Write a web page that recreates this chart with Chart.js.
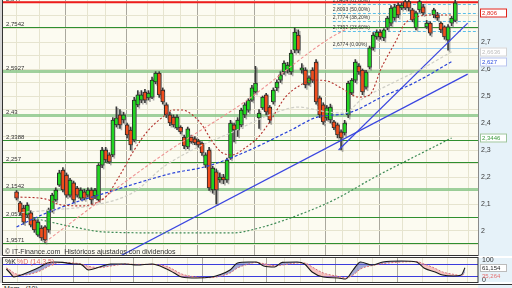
<!DOCTYPE html>
<html lang="es">
<head>
<meta charset="UTF-8">
<title>Cotización - IT-Finance</title>
<script src="https://cdn.jsdelivr.net/npm/chart.js"></script>
<style>
  body { margin: 0; width: 512px; height: 288px; overflow: hidden; background: #fff; position: relative; font-family: "Liberation Sans", Arial, sans-serif; }
  #main { position: absolute; left: 0; top: 0; }
  #osc { position: absolute; left: 0; top: 257px; }
  #mom { position: absolute; left: 2px; top: 284px; width: 476px; height: 4px; border-top: 1px solid #333; background: #fcfbf1; font-size: 7px; color: #222; line-height: 7px; overflow: hidden; padding-left: 2px; }
  #momSide { position: absolute; left: 478px; top: 284px; width: 34px; height: 4px; background: #e6f2f9; border-top: 1px solid #333; }
</style>
</head>
<body>
<canvas id="main" width="512" height="256"></canvas>
<canvas id="osc" width="512" height="26"></canvas>
<div id="mom">Mom&nbsp;&nbsp;&nbsp;(10)</div>
<div id="momSide"></div>

<script>
// ---- datos de las velas (indice = sesion) ----
const candleOpen = [2.145,2.104,2.085,2.060,2.067,2.041,1.985,2.011,2.015,2.004,2.078,2.115,2.170,2.226,2.207,2.133,2.178,2.159,2.122,2.145,
  2.133,2.152,2.130,2.115,2.244,2.300,2.282,2.282,2.393,2.430,2.411,2.393,2.374,2.337,2.467,2.485,2.515,2.493,2.496,2.552,
  2.585,2.522,2.467,2.430,2.422,2.382,2.385,2.348,2.311,2.348,2.341,2.333,2.326,2.244,2.300,2.152,2.219,2.189,2.200,2.189,
  2.270,2.393,2.374,2.393,2.430,2.448,2.485,2.515,2.419,2.456,2.504,2.459,2.478,2.530,2.559,2.589,2.596,2.589,2.670,2.726,
  2.596,2.596,2.548,2.596,2.626,2.493,2.467,2.419,2.411,2.404,2.393,2.367,2.363,2.430,2.511,2.559,2.611,2.596,2.533,2.607,
  2.678,2.719,2.737,2.715,2.752,2.770,2.789,2.837,2.826,2.850,2.850,2.819,2.752,2.819,2.830,2.756,2.770,2.800,2.800,2.770,
  2.756,2.707,2.770,2.780];
const candleHigh = [2.150,2.110,2.095,2.105,2.075,2.050,2.040,2.020,2.020,2.085,2.140,2.160,2.225,2.235,2.215,2.195,2.185,2.165,2.160,2.155,
  2.160,2.160,2.158,2.250,2.310,2.310,2.290,2.420,2.460,2.450,2.440,2.400,2.385,2.495,2.520,2.520,2.525,2.520,2.570,2.590,
  2.590,2.530,2.475,2.440,2.430,2.430,2.390,2.355,2.385,2.355,2.350,2.340,2.330,2.290,2.310,2.240,2.230,2.215,2.210,2.270,
  2.410,2.400,2.420,2.455,2.475,2.490,2.540,2.610,2.450,2.500,2.510,2.465,2.530,2.560,2.590,2.630,2.625,2.670,2.752,2.745,
  2.620,2.605,2.575,2.605,2.635,2.500,2.475,2.465,2.470,2.410,2.400,2.375,2.410,2.555,2.565,2.635,2.620,2.600,2.595,2.685,
  2.735,2.745,2.745,2.750,2.795,2.835,2.840,2.845,2.845,2.856,2.856,2.825,2.815,2.856,2.840,2.780,2.775,2.825,2.810,2.775,
  2.760,2.765,2.795,2.856];
const candleLow = [2.115,2.060,2.025,2.050,2.015,1.995,1.980,1.965,1.957,1.995,2.070,2.110,2.165,2.145,2.125,2.125,2.105,2.125,2.115,2.115,
  2.125,2.100,2.120,2.110,2.235,2.255,2.250,2.275,2.385,2.380,2.400,2.345,2.300,2.330,2.460,2.475,2.475,2.485,2.490,2.545,
  2.495,2.470,2.420,2.390,2.385,2.375,2.360,2.305,2.305,2.325,2.320,2.310,2.280,2.235,2.150,2.140,2.100,2.180,2.175,2.180,
  2.265,2.330,2.350,2.385,2.420,2.440,2.480,2.510,2.380,2.450,2.430,2.400,2.470,2.520,2.550,2.580,2.585,2.580,2.660,2.660,
  2.585,2.530,2.540,2.550,2.470,2.420,2.395,2.410,2.400,2.375,2.345,2.300,2.355,2.420,2.505,2.550,2.580,2.505,2.525,2.600,
  2.670,2.710,2.710,2.705,2.745,2.760,2.780,2.790,2.820,2.820,2.815,2.775,2.745,2.810,2.800,2.750,2.725,2.790,2.780,2.735,
  2.710,2.670,2.760,2.775];
const candleClose = [2.122,2.067,2.033,2.096,2.022,2.004,2.033,1.974,1.967,2.078,2.133,2.152,2.215,2.152,2.133,2.189,2.115,2.133,2.152,2.122,
  2.152,2.115,2.152,2.244,2.300,2.263,2.256,2.411,2.419,2.393,2.430,2.356,2.319,2.485,2.504,2.504,2.485,2.511,2.559,2.585,
  2.504,2.478,2.430,2.400,2.393,2.422,2.367,2.315,2.378,2.330,2.326,2.319,2.289,2.282,2.160,2.233,2.152,2.200,2.189,2.263,
  2.400,2.374,2.411,2.448,2.467,2.485,2.530,2.548,2.437,2.496,2.441,2.411,2.522,2.552,2.578,2.622,2.615,2.659,2.737,2.670,
  2.604,2.541,2.567,2.559,2.478,2.430,2.404,2.456,2.459,2.382,2.356,2.345,2.400,2.548,2.559,2.626,2.589,2.515,2.589,2.678,
  2.726,2.737,2.719,2.745,2.789,2.826,2.830,2.800,2.837,2.826,2.826,2.782,2.808,2.850,2.808,2.770,2.733,2.819,2.789,2.745,
  2.719,2.756,2.789,2.845];

// ---- medias moviles y lineas de tendencia (indice de sesion, precio) ----
const maShortIdx = [0, 8, 12.7, 18.6, 22.7, 25, 29, 33, 37, 41, 44, 46.5, 49, 52, 54.6, 57.3, 60.5, 64, 67.6, 70.8, 75.4, 79.7, 83, 87, 91, 96, 99, 102.4, 106.5, 108.6, 111.4, 116.8, 122];
const maShortVal = [2.126, 2.119, 2.096, 2.093, 2.107, 2.126, 2.207, 2.300, 2.374, 2.422, 2.448, 2.448, 2.433, 2.393, 2.337, 2.293, 2.282, 2.307, 2.345, 2.400, 2.496, 2.541, 2.559, 2.556, 2.530, 2.496, 2.504, 2.607, 2.707, 2.763, 2.789, 2.800, 2.800];
const maPinkIdx = [8, 41, 63.5, 87, 93];
const maPinkVal = [1.959, 2.282, 2.474, 2.707, 2.752];
const maGrayIdx = [0, 10, 22, 33, 41, 50, 60, 71, 79, 87, 92, 96.5, 106, 114, 122];
const maGrayVal = [2.067, 2.078, 2.096, 2.145, 2.235, 2.305, 2.363, 2.430, 2.459, 2.441, 2.437, 2.485, 2.552, 2.604, 2.6636];
const maBlueIdx = [0, 7, 16, 25, 34, 44, 52.7, 63.5, 77, 84.3, 93, 103, 111.4, 122];
const maBlueVal = [2.015, 2.059, 2.104, 2.141, 2.178, 2.215, 2.237, 2.289, 2.374, 2.422, 2.437, 2.500, 2.548, 2.627];
const maGreenIdx = [4.6, 16, 25, 43, 60.5, 68, 79, 89, 100.5, 111.4, 122];
const maGreenVal = [2.048, 2.015, 1.996, 1.993, 1.993, 2.011, 2.059, 2.115, 2.200, 2.274, 2.3446];
const trendAIdx = [28.6, 126.5];
const trendAVal = [1.904, 2.581];
const trendBIdx = [90.3, 126.5];
const trendBVal = [2.300, 2.770];

// ---- niveles horizontales ----
const levelValues = [2.7542, 2.5927, 2.43, 2.3388, 2.257, 2.1542, 2.0512, 1.9571];
const levelLabels = ['2,7542', '2,5927', '2,43', '2,3388', '2,257', '2,1542', '2,0512', '1,9571'];
const levelSoft = [false, true, true, false, false, true, false, false];
const topLevelValue = 2.847;
const topLevelLabel = '2,847';
const fibValues = [2.8404, 2.8093, 2.7774, 2.7392, 2.6774];
const fibLabels = ['2,8404 (61,80%)', '2,8093 (50,00%)', '2,7774 (38,20%)', '2,7392 (23,60%)', '2,6774 (0,00%)'];
const fibStartIdx = 88.7;

// etiquetas del eje derecho
const priceTicks = [2, 2.1, 2.2, 2.3, 2.4, 2.5, 2.6, 2.7, 2.8];
const sideValues = [2.806, 2.6636, 2.627, 2.3446];
const sideLabels = ['2,806', '2,6636', '2,627', '2,3446'];
const sideColors = ['#e0221a', '#bdbdbd', '#2f4fe0', '#3d9a3d'];
const sideBorders = ['#e0221a', '#d4d4d4', '#b8c4ee', '#9cc49c'];

// rejilla vertical (semanas y meses)
const weekGrid = [3.1, 9.5, 21.9, 27.8, 39.3, 43.3, 48.7, 58.6, 63.5, 74.7, 78.8, 84.9, 94.3, 98.3, 111.5, 118.2, 123.8];
const monthGrid = [17.9, 34, 52.7, 69.9, 88.4, 105];

// ---- estocastico ----
const oscIdx = [0, 1, 2, 4, 6, 9, 11, 13, 15, 18, 20, 22, 25, 28, 32, 35, 39, 43, 45, 47, 51, 55, 57, 60, 62, 65, 67, 69, 72, 74, 78, 80, 82, 85, 89, 91, 93, 95, 98, 101, 106, 110, 112, 115, 117, 120, 122, 123];
const oscK = [55, 35, 15, 25, 40, 65, 85, 90, 88, 80, 78, 50, 65, 80, 80, 75, 80, 55, 35, 15, 10, 15, 25, 50, 85, 90, 90, 70, 65, 88, 90, 80, 40, 15, 10, 5, 50, 90, 75, 90, 95, 90, 60, 40, 25, 20, 25, 61.154];
const oscD = [60, 50, 35, 25, 28, 45, 65, 82, 88, 85, 80, 68, 62, 70, 80, 78, 78, 68, 50, 30, 15, 12, 18, 35, 60, 80, 88, 82, 72, 75, 85, 85, 65, 35, 18, 10, 25, 55, 72, 82, 90, 92, 80, 58, 40, 28, 22, 35.264];
const oscLevels = [80, 20];
const oscSideValues = [61.154, 35.264];
const oscSideLabels = ['61,154', '35,264'];

const X_MIN = -0.9, X_MAX = 126.5;
const Y_MIN = 1.9074, Y_MAX = 2.8556;
const FONT = '"Liberation Sans", Arial, sans-serif';
Chart.defaults.font.family = FONT;

function pts(ix, vals) {
  return ix.map((x, k) => ({ x: x, y: vals[k] }));
}
function fmt(v) {
  return String(+v.toFixed(2)).replace('.', ',');
}

const idx = candleClose.map((c, i) => i);
const gridIdx = weekGrid.concat(monthGrid).sort((a, b) => a - b);

function xAxis() {
  return {
    type: 'linear', min: X_MIN, max: X_MAX,
    ticks: { display: false },
    border: { display: false },
    grid: {
      drawTicks: false,
      color: c => (c.tick && monthGrid.includes(c.tick.value)) ? '#aaa89e' : '#e6e4cf'
    },
    afterBuildTicks: s => { s.ticks = gridIdx.map(v => ({ value: v })); },
    afterFit: s => { s.height = 0; }
  };
}

// sombra gris de las velas
const candleShadow = {
  id: 'candleShadow',
  beforeDatasetDraw(chart, args) {
    if (!chart.data.datasets[args.index].candle) return;
    const c = chart.ctx;
    c.save();
    c.shadowColor = 'rgba(110,110,110,0.55)';
    c.shadowOffsetX = 1.5;
    c.shadowOffsetY = 1.5;
    c.shadowBlur = 0.5;
  },
  afterDatasetDraw(chart, args) {
    if (chart.data.datasets[args.index].candle) chart.ctx.restore();
  }
};

const mainDecor = {
  id: 'mainDecor',
  beforeDraw(chart) {
    const { ctx, chartArea: a, width, height } = chart;
    ctx.save();
    ctx.fillStyle = '#fcfbf1';
    ctx.fillRect(a.left, a.top, a.right - a.left, a.bottom - a.top);
    ctx.fillStyle = '#e6f2f9';
    ctx.fillRect(a.right, 0, width - a.right, height);
    ctx.fillStyle = '#d6d6d6';
    ctx.fillRect(0, 0, a.left, height);
    ctx.restore();
  },
  beforeDatasetsDraw(chart) {
    const { ctx, chartArea: a, scales } = chart;
    const y = scales.y, x = scales.x;
    ctx.save();
    ctx.font = '6px ' + FONT;
    ctx.textBaseline = 'alphabetic';
    // niveles verdes
    levelValues.forEach((v, k) => {
      const py = Math.round(y.getPixelForValue(v)) + 0.5;
      ctx.strokeStyle = levelSoft[k] ? 'rgba(135,198,135,0.8)' : '#2f8f2f';
      ctx.lineWidth = levelSoft[k] ? 3 : 1;
      ctx.beginPath(); ctx.moveTo(a.left, py); ctx.lineTo(a.right, py); ctx.stroke();
      ctx.fillStyle = '#333';
      ctx.fillText(levelLabels[k], a.left + 3, py - 2);
    });
    // nivel rojo superior
    const ty = y.getPixelForValue(topLevelValue);
    ctx.strokeStyle = '#ee1c1c'; ctx.lineWidth = 2;
    ctx.beginPath(); ctx.moveTo(a.left, ty); ctx.lineTo(a.right, ty); ctx.stroke();
    ctx.fillStyle = '#333';
    ctx.fillText(topLevelLabel, a.left + 3, ty - 1.5);
    // retrocesos de Fibonacci
    const fx = x.getPixelForValue(fibStartIdx);
    ctx.font = '5px ' + FONT;
    fibValues.forEach((v, k) => {
      const py = Math.round(y.getPixelForValue(v)) + 0.5;
      const last = k === fibValues.length - 1;
      ctx.strokeStyle = last ? '#9fd3ee' : '#5bbfe9';
      ctx.lineWidth = 1;
      ctx.setLineDash(last ? [] : [3, 2]);
      ctx.beginPath(); ctx.moveTo(fx, py); ctx.lineTo(a.right, py); ctx.stroke();
      ctx.fillStyle = '#333';
      ctx.fillText(fibLabels[k], fx, py - 3);
    });
    ctx.restore();
  },
  afterDatasetsDraw(chart) {
    const { ctx, chartArea: a } = chart;
    ctx.save();
    ctx.font = '7px ' + FONT;
    ctx.fillStyle = '#333';
    ctx.fillText('© IT-Finance.com  Históricos ajustados con dividendos', a.left + 2, a.bottom - 2);
    ctx.strokeStyle = '#333'; ctx.lineWidth = 1;
    ctx.beginPath();
    ctx.moveTo(a.left - 0.5, a.top); ctx.lineTo(a.left - 0.5, a.bottom - 0.5); ctx.lineTo(a.right, a.bottom - 0.5);
    ctx.stroke();
    ctx.restore();
  },
  afterDraw(chart) {
    const { ctx, chartArea: a, scales } = chart;
    ctx.save();
    ctx.font = '6px ' + FONT;
    ctx.textBaseline = 'middle';
    sideValues.forEach((v, k) => {
      const py = Math.round(scales.y.getPixelForValue(v));
      ctx.fillStyle = '#fff';
      ctx.fillRect(a.right + 2, py - 4.5, 27, 9);
      ctx.strokeStyle = sideBorders[k]; ctx.lineWidth = 1;
      ctx.strokeRect(a.right + 2.5, py - 4, 26, 8);
      ctx.fillStyle = sideColors[k];
      ctx.fillText(sideLabels[k], a.right + 4, py + 0.5);
    });
    ctx.restore();
  }
};

new Chart(document.getElementById('main'), {
  type: 'bar',
  data: {
    datasets: [
      { type: 'line', data: pts(maShortIdx, maShortVal), borderColor: '#b3312c', borderWidth: 1.1, borderDash: [2, 2], pointRadius: 0, cubicInterpolationMode: 'monotone', order: 0 },
      { type: 'line', data: pts(maPinkIdx, maPinkVal), borderColor: '#ee9090', borderWidth: 1.1, borderDash: [3, 2], pointRadius: 0, cubicInterpolationMode: 'monotone', order: 0 },
      { type: 'line', data: pts(maGrayIdx, maGrayVal), borderColor: '#cfcfc6', borderWidth: 1.2, borderDash: [3, 2], pointRadius: 0, cubicInterpolationMode: 'monotone', order: 0 },
      { type: 'line', data: pts(maBlueIdx, maBlueVal), borderColor: '#2a43d8', borderWidth: 1.2, borderDash: [3, 2], pointRadius: 0, cubicInterpolationMode: 'monotone', order: 0 },
      { type: 'line', data: pts(maGreenIdx, maGreenVal), borderColor: '#3d8a55', borderWidth: 1.2, borderDash: [2, 2], pointRadius: 0, cubicInterpolationMode: 'monotone', order: 0 },
      { type: 'line', data: pts(trendAIdx, trendAVal), borderColor: '#3a46e0', borderWidth: 1.2, pointRadius: 0, order: 0 },
      { type: 'line', data: pts(trendBIdx, trendBVal), borderColor: '#3a46e0', borderWidth: 1.2, pointRadius: 0, order: 0 },
      {
        candle: true, grouped: false, order: 1, barThickness: 4,
        data: idx.map(i => ({ x: i, y: [candleOpen[i], candleClose[i]] })),
        backgroundColor: idx.map(i => candleClose[i] >= candleOpen[i] ? '#22d622' : '#f04c1c'),
        borderColor: '#2a2a2a', borderWidth: 1, borderSkipped: false
      },
      {
        candle: true, grouped: false, order: 2, barThickness: 1,
        data: idx.map(i => ({ x: i, y: [candleLow[i], candleHigh[i]] })),
        backgroundColor: '#3a3a3a'
      }
    ]
  },
  options: {
    responsive: false,
    animation: false,
    layout: { padding: { left: 3, right: 0, top: 0, bottom: 0 } },
    plugins: { legend: { display: false }, tooltip: { enabled: false } },
    scales: {
      x: xAxis(),
      y: {
        position: 'right', min: Y_MIN, max: Y_MAX,
        ticks: {
          stepSize: 0.05, autoSkip: false, includeBounds: false, padding: 3,
          color: '#3a3a3a', font: { size: 7 },
          callback: v => priceTicks.some(t => Math.abs(t - v) < 1e-6) ? fmt(v) : ''
        },
        grid: { drawTicks: false, color: '#e6e4cf' },
        border: { display: true, color: '#8a8a8a' },
        afterFit: s => { s.width = 34; s.paddingTop = 0; s.paddingBottom = 0; }
      }
    }
  },
  plugins: [mainDecor, candleShadow]
});

// ---- panel del estocastico ----
const oscDecor = {
  id: 'oscDecor',
  beforeDraw(chart) {
    const { ctx, chartArea: a, width, height } = chart;
    ctx.save();
    ctx.fillStyle = '#fff';
    ctx.fillRect(0, 0, width, height);
    ctx.fillStyle = '#fcfbf1';
    ctx.fillRect(a.left, a.top, a.right - a.left, a.bottom - a.top);
    ctx.fillStyle = '#e6f2f9';
    ctx.fillRect(a.right, a.top, width - a.right, a.bottom - a.top);
    ctx.fillStyle = '#d6d6d6';
    ctx.fillRect(0, 0, a.left, height);
    ctx.restore();
  },
  beforeDatasetsDraw(chart) {
    const { ctx, chartArea: a, scales } = chart;
    ctx.save();
    ctx.strokeStyle = '#3b3bdc'; ctx.lineWidth = 1.2;
    oscLevels.forEach(v => {
      const py = Math.round(scales.y.getPixelForValue(v)) + 0.5;
      ctx.beginPath(); ctx.moveTo(a.left, py); ctx.lineTo(a.right, py); ctx.stroke();
    });
    ctx.restore();
  },
  afterDraw(chart) {
    const { ctx, chartArea: a, scales } = chart;
    const y = scales.y;
    ctx.save();
    ctx.strokeStyle = '#333'; ctx.lineWidth = 1;
    ctx.strokeRect(a.left - 0.5, a.top - 0.5, a.right - a.left + 0.5, a.bottom - a.top + 1);
    ctx.font = '7px ' + FONT;
    ctx.textBaseline = 'top';
    ctx.fillStyle = '#222';
    ctx.fillText('%K', a.left + 2, a.top + 1);
    ctx.fillStyle = '#e06a6a';
    ctx.fillText('%D (14,3,5)', a.left + 14, a.top + 1);
    ctx.textBaseline = 'middle';
    ctx.fillStyle = '#333';
    ctx.fillText('100', a.right + 4, y.getPixelForValue(100));
    ctx.fillText('0', a.right + 4, y.getPixelForValue(0));
    ctx.font = '6px ' + FONT;
    oscSideValues.forEach((v, k) => {
      const py = Math.round(y.getPixelForValue(v)) + (k === 1 ? 3 : 0);
      if (k === 0) {
        ctx.fillStyle = '#fff';
        ctx.fillRect(a.right + 2, py - 4, 27, 8);
        ctx.strokeStyle = '#bbb';
        ctx.strokeRect(a.right + 2.5, py - 3.5, 26, 7);
        ctx.fillStyle = '#222';
      } else {
        ctx.fillStyle = '#e57070';
      }
      ctx.fillText(oscSideLabels[k], a.right + 4, py + 0.5);
    });
    ctx.restore();
  }
};

new Chart(document.getElementById('osc'), {
  type: 'line',
  data: {
    datasets: [
      {
        data: pts(oscIdx, oscK), borderColor: '#1a1a1a', borderWidth: 1.1, pointRadius: 0,
        cubicInterpolationMode: 'monotone',
        fill: { target: 1, above: 'rgba(95,105,185,0.55)', below: 'rgba(240,150,150,0.55)' }
      },
      {
        data: pts(oscIdx, oscD), borderColor: '#e46a6a', borderWidth: 1, borderDash: [2, 1.5], pointRadius: 0,
        cubicInterpolationMode: 'monotone'
      }
    ]
  },
  options: {
    responsive: false,
    animation: false,
    layout: { padding: { left: 3, right: 0, top: 1, bottom: 1 } },
    plugins: { legend: { display: false }, tooltip: { enabled: false } },
    scales: {
      x: xAxis(),
      y: {
        position: 'right', min: -10, max: 110,
        ticks: { display: false },
        grid: { display: false },
        border: { display: false },
        afterFit: s => { s.width = 34; s.paddingTop = 0; s.paddingBottom = 0; }
      }
    }
  },
  plugins: [oscDecor]
});
</script>
</body>
</html>
